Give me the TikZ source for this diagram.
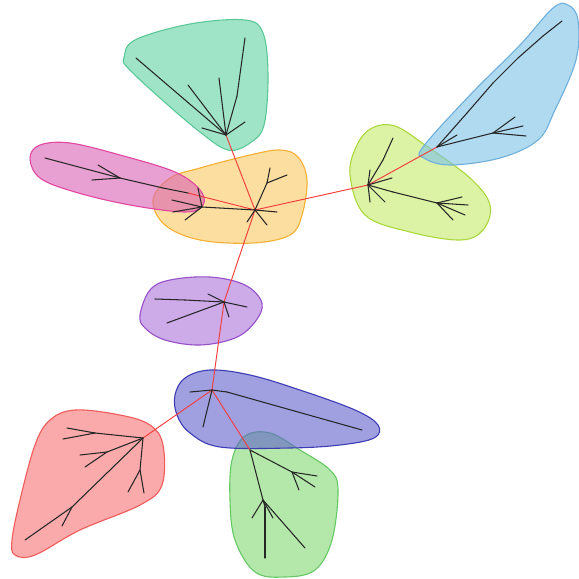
\documentclass[tikz,border=0pt]{standalone}
\begin{document}
\begin{tikzpicture}[x=1pt,y=-1pt,
  blob/.style={line width=1.1pt, fill opacity=0.6, smooth cycle, tension=0.6},
  tree/.style={line width=1.05pt, draw=black!85, line cap=round, line join=round},
  spine/.style={line width=0.95pt, line cap=round}]
\definecolor{tealF}{RGB}{97,210,163}\definecolor{tealD}{RGB}{90,200,150}
\definecolor{pinkF}{RGB}{217,97,180}\definecolor{pinkD}{RGB}{225,70,160}
\definecolor{oranF}{RGB}{250,200,97}\definecolor{oranD}{RGB}{245,175,50}
\definecolor{ylgnF}{RGB}{197,233,105}\definecolor{ylgnD}{RGB}{170,215,60}
\definecolor{bluF}{RGB}{122,193,230}\definecolor{bluD}{RGB}{110,175,220}
\definecolor{purF}{RGB}{172,113,217}\definecolor{purD}{RGB}{150,80,200}
\definecolor{bvF}{RGB}{97,97,205}\definecolor{bvD}{RGB}{60,60,180}
\definecolor{redF}{RGB}{247,113,113}\definecolor{redD}{RGB}{240,90,90}
\definecolor{grnF}{RGB}{130,217,113}\definecolor{grnD}{RGB}{100,200,100}
\definecolor{spineC}{RGB}{245,60,60}
\useasboundingbox (0,0) rectangle (579,579);
% ---------- blobs ----------
\draw[blob, draw=oranD, fill=oranF] plot coordinates {(153,200) (170,178) (200,168) (250,155) (280,150) (298,157) (307,180) (302,215) (290,235) (253,243) (200,240) (165,225)};
\draw[blob, draw=pinkD, fill=pinkF] plot coordinates {(30,158) (40,145) (70,143) (120,155) (175,172) (200,190) (203,205) (185,212) (130,205) (75,192) (40,178)};
\draw[blob, draw=tealD, fill=tealF] plot coordinates {(124,58) (135,40) (190,24) (245,20) (263,33) (268,75) (264,125) (250,143) (228,150) (200,132) (160,98) (128,68)};
\draw[blob, draw=ylgnD, fill=ylgnF] plot coordinates {(350,175) (357,145) (372,128) (395,126) (425,145) (470,178) (490,205) (483,230) (460,240) (410,232) (365,215)};
\draw[blob, draw=bluD, fill=bluF] plot coordinates {(423,147) (470,95) (520,45) (553,8) (568,5) (578,20) (576,60) (555,110) (538,140) (500,158) (450,165) (424,158)};
\draw[blob, draw=purD, fill=purF] plot coordinates {(140,315) (150,290) (170,280) (210,277) (245,285) (262,303) (255,322) (235,338) (200,345) (165,340) (145,328)};
\draw[blob, draw=grnD, fill=grnF] plot coordinates {(232,460) (245,436) (270,433) (300,450) (330,470) (338,490) (332,540) (315,570) (285,577) (255,572) (235,540) (230,500)};
\draw[blob, draw=bvD, fill=bvF] plot coordinates {(175,395) (185,378) (210,370) (250,375) (300,390) (355,410) (378,425) (374,438) (340,445) (290,448) (220,447) (190,433) (177,415)};
\draw[blob, draw=redD, fill=redF] plot coordinates {(12,540) (20,500) (35,445) (50,420) (75,410) (120,415) (150,425) (163,445) (162,485) (140,505) (80,530) (35,555) (15,555)};
% ---------- tree nodes ----------
% teal
\coordinate (T0) at (226,135); \coordinate (T1) at (136,58); \coordinate (T2) at (188,85);
\coordinate (T3) at (219,78); \coordinate (T4m) at (237,96); \coordinate (T4) at (245,38);
\coordinate (T5) at (245,122); \coordinate (T6) at (202,128);
% orange
\coordinate (O0) at (255,210); \coordinate (O1) at (202,207); \coordinate (O1a) at (198,188);
\coordinate (O1b) at (172,200); \coordinate (O1c) at (173,212); \coordinate (O1d) at (185,220);
\coordinate (O2m) at (267,183); \coordinate (O2) at (270,168); \coordinate (O3) at (287,175);
\coordinate (O4) at (277,212); \coordinate (O5) at (267,225); \coordinate (O6) at (247,222);
% pink
\coordinate (P0) at (45,158); \coordinate (P1) at (120,178); \coordinate (P2) at (98,165);
\coordinate (P3) at (92,180); \coordinate (P4) at (163,188); \coordinate (P5) at (188,193);
% yellow-green
\coordinate (Y0) at (368,185); \coordinate (Y1m) at (383,160); \coordinate (Y1) at (393,138);
\coordinate (Y2) at (370,170); \coordinate (Y3) at (392,178); \coordinate (Y4) at (370,202);
\coordinate (Y5) at (385,202); \coordinate (Y6m) at (393,192); \coordinate (Y6) at (437,203);
\coordinate (Y6a) at (462,197); \coordinate (Y6b) at (468,205); \coordinate (Y6c) at (465,215);
\coordinate (Y6d) at (453,220);
% blue
\coordinate (B0) at (437,147); \coordinate (B1) at (457,135); \coordinate (B2) at (467,113);
\coordinate (B3) at (493,83); \coordinate (B4) at (518,58); \coordinate (B5) at (543,36);
\coordinate (B6) at (562,21); \coordinate (B7) at (493,133); \coordinate (B7a) at (515,117);
\coordinate (B7b) at (523,126); \coordinate (B7c) at (526,136);
% purple
\coordinate (U0) at (224,302); \coordinate (U1m) at (185,300); \coordinate (U1) at (155,299);
\coordinate (U2) at (167,323); \coordinate (U3) at (208,294); \coordinate (U4) at (247,307);
\coordinate (U5) at (229,317);
% blue-violet
\coordinate (V0) at (212,390); \coordinate (V1) at (190,392); \coordinate (V2) at (203,427);
\coordinate (V3m) at (227,392); \coordinate (V3) at (362,430);
% red
\coordinate (R0) at (143,438); \coordinate (R1) at (95,433); \coordinate (R1a) at (67,428);
\coordinate (R1b) at (63,439); \coordinate (R2) at (107,452); \coordinate (R2a) at (80,455);
\coordinate (R2b) at (85,467); \coordinate (R3m) at (108,472); \coordinate (R3) at (72,507);
\coordinate (R3a) at (62,526); \coordinate (R4) at (25,540); \coordinate (R5) at (140,470);
\coordinate (R5a) at (128,492); \coordinate (R5b) at (144,493);
% green
\coordinate (G0) at (250,450); \coordinate (G1) at (292,472); \coordinate (G1a) at (317,476);
\coordinate (G1b) at (315,487); \coordinate (G1c) at (299,490); \coordinate (G2) at (263,500);
\coordinate (G2a) at (252,518); \coordinate (G2b) at (265,507); \coordinate (G2c) at (265,558);
\coordinate (G2d) at (273,518); \coordinate (G2e) at (305,548);
% ---------- red backbone ----------
\foreach \a/\b in {T0/O0, O0/Y0, Y0/B0, O0/U0, U0/V0, V0/R0, V0/G0, P5/O0}
  \draw[spine, draw=spineC] (\a) -- (\b);
% ---------- black trees ----------
\foreach \a/\b in {T0/T1, T0/T2, T0/T3, T0/T4m, T4m/T4, T0/T5, T0/T6,
  O0/O1, O1/O1a, O1/O1b, O1/O1c, O1/O1d, O0/O2m, O2m/O2, O2m/O3, O0/O4, O0/O5, O0/O6,
  P0/P1, P1/P2, P1/P3, P1/P4, P4/P5,
  Y0/Y1m, Y1m/Y1, Y0/Y2, Y0/Y3, Y0/Y4, Y0/Y5, Y0/Y6m, Y6m/Y6, Y6/Y6a, Y6/Y6b, Y6/Y6c, Y6/Y6d,
  B0/B1, B0/B2, B2/B3, B3/B4, B4/B5, B5/B6, B0/B7, B7/B7a, B7/B7b, B7/B7c,
  U0/U1m, U1m/U1, U0/U2, U0/U3, U0/U4, U0/U5,
  V0/V1, V0/V2, V0/V3m, V3m/V3,
  R0/R1, R1/R1a, R1/R1b, R0/R2, R2/R2a, R2/R2b, R0/R3m, R3m/R3, R3/R3a, R3/R4, R0/R5, R5/R5a, R5/R5b,
  G0/G1, G1/G1a, G1/G1b, G1/G1c, G0/G2, G2/G2a, G2/G2b, G2b/G2c, G2/G2d, G2/G2e}
  \draw[tree] (\a) -- (\b);
\end{tikzpicture}
\end{document}
